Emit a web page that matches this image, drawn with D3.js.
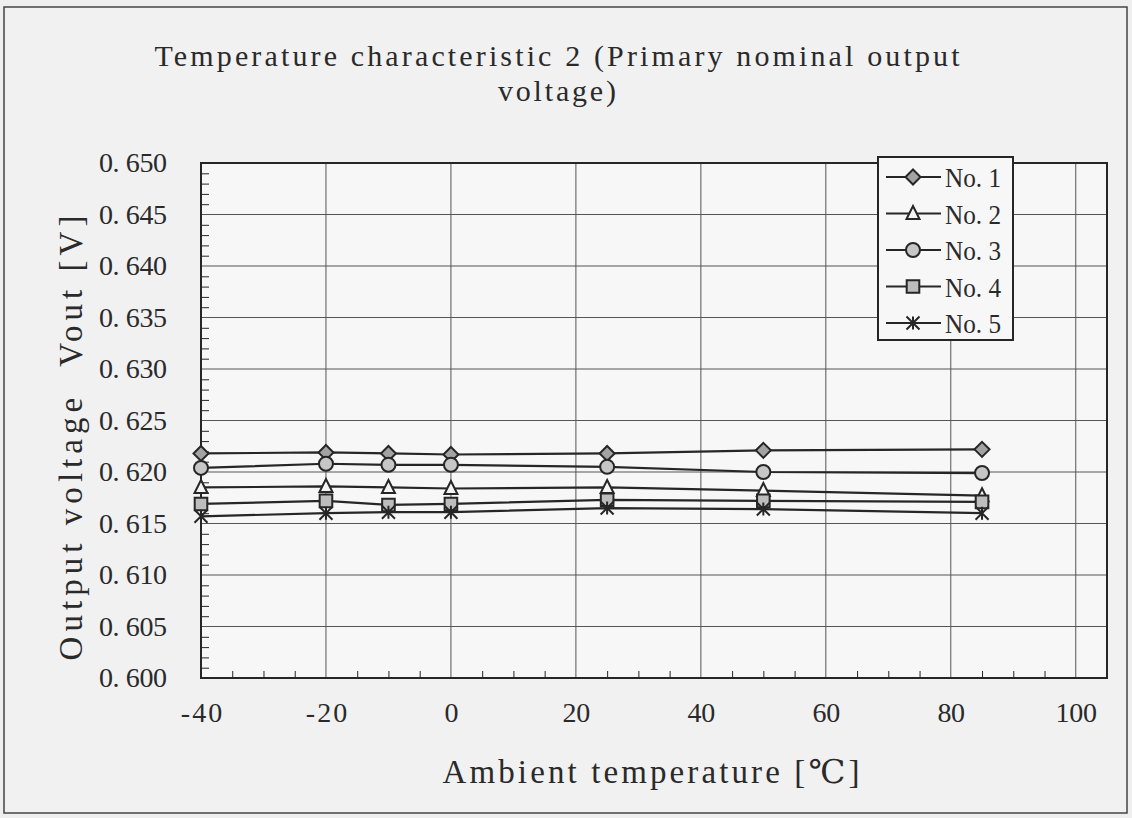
<!DOCTYPE html>
<html>
<head>
<meta charset="utf-8">
<script src="https://cdn.jsdelivr.net/npm/d3@7"></script>
<style>
  html, body { margin: 0; padding: 0; background: #efefef; }
  svg { display: block; }
  text { font-family: "Liberation Serif", "DejaVu Serif", serif; fill: #2a2a2a; }
</style>
</head>
<body>
<svg width="1132" height="818"></svg>
<script>
// data
const temps = [-40, -20, -10, 0, 25, 50, 85];
const no1 = [0.6218, 0.6219, 0.6218, 0.6217, 0.6218, 0.6221, 0.6222];
const no2 = [0.6185, 0.6186, 0.6185, 0.6184, 0.6185, 0.6182, 0.6177];
const no3 = [0.6204, 0.6208, 0.6207, 0.6207, 0.6205, 0.6200, 0.6199];
const no4 = [0.6169, 0.6172, 0.6168, 0.6169, 0.6173, 0.6172, 0.6171];
const no5 = [0.6157, 0.6160, 0.6161, 0.6161, 0.6165, 0.6164, 0.6160];
const seriesNames = ['No. 1', 'No. 2', 'No. 3', 'No. 4', 'No. 5'];
const xTicks = [-40, -20, 0, 20, 40, 60, 80, 100];
const yTicks = [0.600, 0.605, 0.610, 0.615, 0.620, 0.625, 0.630, 0.635, 0.640, 0.645, 0.650];

const svg = d3.select('svg');
const ink = '#262626';

// outer frame
svg.append('rect')
  .attr('x', 4).attr('y', 7).attr('width', 1123).attr('height', 806)
  .attr('fill', '#f1f1f1').attr('stroke', '#444').attr('stroke-width', 1.5);

const plot = { left: 201, right: 1107, top: 163, bottom: 678 };
const x = d3.scaleLinear().domain([-40, 105]).range([plot.left, plot.right]);
const y = d3.scaleLinear().domain([0.600, 0.650]).range([plot.bottom, plot.top]);

// the scan uses a monospaced mincho face; spread a serif face to the same widths
function fit(sel, w, adjust) {
  sel.attr('textLength', w).attr('lengthAdjust', adjust || 'spacing');
}

svg.append('rect')
  .attr('x', plot.left).attr('y', plot.top)
  .attr('width', plot.right - plot.left).attr('height', plot.bottom - plot.top)
  .attr('fill', '#f7f7f7');

// grid
const g = svg.append('g');
g.selectAll('.vgrid').data(xTicks.filter(d => d > -40)).join('line')
  .attr('x1', d => x(d)).attr('x2', d => x(d))
  .attr('y1', plot.top).attr('y2', plot.bottom)
  .attr('stroke', '#555').attr('stroke-width', 1);
g.selectAll('.hgrid').data(yTicks.slice(1, -1)).join('line')
  .attr('x1', plot.left).attr('x2', plot.right)
  .attr('y1', d => y(d)).attr('y2', d => y(d))
  .attr('stroke', '#555').attr('stroke-width', 1);

// minor ticks, pointing inward
const yMinor = d3.range(601, 650).filter(v => v % 5 !== 0).map(v => v / 1000);
const xMinor = d3.range(-35, 105, 5).filter(v => v % 20 !== 0);
g.append('g')
  .attr('transform', `translate(${plot.left},0)`)
  .call(d3.axisLeft(y).tickValues(yMinor).tickSize(-8).tickFormat(''))
  .call(a => a.select('.domain').remove())
  .selectAll('line').attr('stroke', ink).attr('stroke-width', 1);
g.append('g')
  .attr('transform', `translate(0,${plot.bottom})`)
  .call(d3.axisBottom(x).tickValues(xMinor).tickSize(-7).tickFormat(''))
  .call(a => a.select('.domain').remove())
  .selectAll('line').attr('stroke', ink).attr('stroke-width', 1);

// plot border
svg.append('rect')
  .attr('x', plot.left).attr('y', plot.top)
  .attr('width', plot.right - plot.left).attr('height', plot.bottom - plot.top)
  .attr('fill', 'none').attr('stroke', ink).attr('stroke-width', 2);

// tick labels
const yAxis = svg.append('g')
  .attr('transform', `translate(${plot.left},0)`)
  .call(d3.axisLeft(y).tickValues(yTicks).tickSize(0).tickPadding(34)
    .tickFormat(d => d3.format('.3f')(d).replace('.', '. ')));
yAxis.select('.domain').remove();
yAxis.selectAll('text')
  .attr('font-size', 28).attr('fill', '#2a2a2a')
  .style('font-family', '"Liberation Serif", serif')
  .call(fit, 68);

const xAxis = svg.append('g')
  .attr('transform', `translate(0,${plot.bottom})`)
  .call(d3.axisBottom(x).tickValues(xTicks).tickSize(0).tickPadding(24)
    .tickFormat(d => String(d)));
xAxis.select('.domain').remove();
xAxis.selectAll('text')
  .attr('font-size', 28).attr('fill', '#2a2a2a')
  .style('font-family', '"Liberation Serif", serif')
  .each(function (d) { d3.select(this).call(fit, String(d).length * 13.8); });

// titles
svg.append('text')
  .attr('x', 557).attr('y', 66).attr('text-anchor', 'middle')
  .attr('font-size', 30)
  .text('Temperature characteristic 2 (Primary nominal output')
  .call(fit, 805);
svg.append('text')
  .attr('x', 557).attr('y', 101).attr('text-anchor', 'middle')
  .attr('font-size', 30)
  .text('voltage)')
  .call(fit, 118);

svg.append('text')
  .attr('x', 651).attr('y', 783).attr('text-anchor', 'middle')
  .attr('font-size', 33)
  .text('Ambient temperature [℃]')
  .call(fit, 417);

svg.append('text')
  .attr('transform', 'translate(82,438) rotate(-90)')
  .attr('text-anchor', 'middle')
  .attr('font-size', 33)
  .style('white-space', 'pre')
  .text('Output voltage  Vout [V]')
  .call(fit, 445);

// markers
const diamond = { draw(c, s) { const r = Math.sqrt(s) / 2; c.moveTo(0, -r); c.lineTo(r, 0); c.lineTo(0, r); c.lineTo(-r, 0); c.closePath(); } };
const triangle = { draw(c, s) { const r = Math.sqrt(s) / 2; c.moveTo(0, -r * 1.15); c.lineTo(r, r * 0.85); c.lineTo(-r, r * 0.85); c.closePath(); } };
const circle = { draw(c, s) { const r = Math.sqrt(s) / 2; c.moveTo(r, 0); c.arc(0, 0, r, 0, 2 * Math.PI); } };
const square = { draw(c, s) { const r = Math.sqrt(s) / 2 * 0.9; c.rect(-r, -r, 2 * r, 2 * r); } };
const star = { draw(c, s) { const r = Math.sqrt(s) / 2; c.moveTo(-r, -r); c.lineTo(r, r); c.moveTo(r, -r); c.lineTo(-r, r); c.moveTo(0, -r); c.lineTo(0, r); } };

const series = [
  { name: seriesNames[0], values: no1, type: diamond, fill: '#a3a3a3', size: 15 },
  { name: seriesNames[1], values: no2, type: triangle, fill: '#f4f4f4', size: 13 },
  { name: seriesNames[2], values: no3, type: circle, fill: '#c6c6c6', size: 14 },
  { name: seriesNames[3], values: no4, type: square, fill: '#bdbdbd', size: 14 },
  { name: seriesNames[4], values: no5, type: star, fill: 'none', size: 13 }
];

const line = d3.line().x((d, i) => x(temps[i])).y(d => y(d));

const sg = svg.append('g');
series.forEach(s => {
  sg.append('path')
    .attr('d', line(s.values))
    .attr('fill', 'none').attr('stroke', ink).attr('stroke-width', 2.2);
});
series.forEach(s => {
  const sym = d3.symbol().type(s.type).size(s.size * s.size);
  sg.selectAll(null).data(s.values).join('path')
    .attr('transform', (d, i) => `translate(${x(temps[i])},${y(d)})`)
    .attr('d', sym)
    .attr('fill', s.fill).attr('stroke', ink).attr('stroke-width', 2);
});

// legend
const lg = svg.append('g');
lg.append('rect')
  .attr('x', 878).attr('y', 157).attr('width', 135).attr('height', 183)
  .attr('fill', '#f7f7f7').attr('stroke', ink).attr('stroke-width', 2);
const ly = d3.scalePoint().domain(seriesNames).range([177, 323]);
series.forEach(s => {
  const yy = ly(s.name);
  lg.append('line')
    .attr('x1', 886).attr('x2', 941).attr('y1', yy).attr('y2', yy)
    .attr('stroke', ink).attr('stroke-width', 2.2);
  lg.append('path')
    .attr('transform', `translate(913,${yy})`)
    .attr('d', d3.symbol().type(s.type).size(s.size * s.size))
    .attr('fill', s.fill).attr('stroke', ink).attr('stroke-width', 2);
  lg.append('text')
    .attr('x', 945).attr('y', yy + 10)
    .attr('font-size', 28)
    .text(s.name)
    .call(fit, 56, 'spacingAndGlyphs');
});
</script>
</body>
</html>
